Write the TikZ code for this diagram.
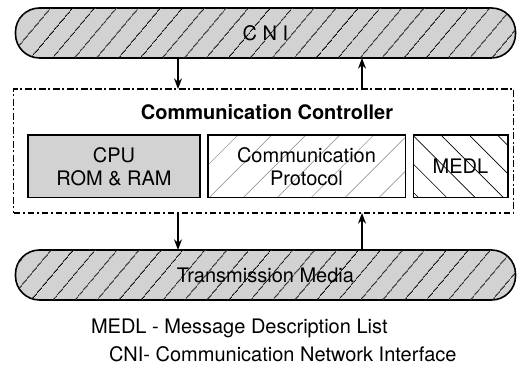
\documentclass[tikz,border=0pt]{standalone}
\usepackage{fontspec}
\setmainfont{TeX Gyre Heros}
\usetikzlibrary{arrows.meta, positioning, patterns.meta}

\begin{document}
\begin{tikzpicture}[x=0.75pt, y=-0.75pt,
    every node/.style={font=\fontsize{15}{17}\selectfont, outer sep=0pt},
    bus/.style={draw, line width=1.2pt, rounded corners=18pt,
        minimum width=375pt, minimum height=37.5pt, fill=gray!35,
        postaction={pattern={Lines[angle=50, distance=13pt, line width=0.7pt]}}},
    ctrlbox/.style={draw, line width=1pt,
        dash pattern=on 5pt off 2pt on 1.5pt off 2pt,
        minimum width=375pt, minimum height=93pt},
    unit/.style={draw, line width=1pt, align=center,
        minimum height=47pt, inner sep=2pt},
    flow/.style={line width=1pt, -{Stealth[length=8pt, width=6pt]}}
  ]
  \useasboundingbox (0,0) rectangle (517,373);

  % upper bus and lower bus
  \node[bus] (cni) at (265.5,33) {C N I};
  \node[bus] (media) at (265.5,275) {Transmission Media};

  % controller
  \node[ctrlbox] (ctrl) at (263.5,151) {};
  \node[font=\fontsize{15}{17}\selectfont\bfseries] (title) at (267,112) {Communication Controller};

  \node[unit, fill=gray!35, minimum width=129pt] (cpu) at (114,166.5) {CPU\\ROM \& RAM};
  \node[unit, minimum width=148pt,
      pattern={Lines[angle=45, distance=18pt, line width=0.5pt]}, pattern color=gray!80]
      (prot) at (306.5,166.5) {Communication\\Protocol};
  \node[unit, minimum width=71pt,
      pattern={Lines[angle=-45, distance=15pt, line width=0.5pt]}]
      (medl) at (460.5,166.5) {MEDL};

  % arrows
  \coordinate (dn) at (178,0);
  \coordinate (up) at (362,0);
  \draw[flow] (dn |- cni.south) -- (dn |- ctrl.north);
  \draw[flow] (up |- ctrl.north) -- (up |- cni.south);
  \draw[flow] (dn |- ctrl.south) -- (dn |- media.north);
  \draw[flow] (up |- media.north) -- (up |- ctrl.south);

  % legend
  \node[anchor=west, inner sep=0pt] (leg1) at (91,328) {MEDL - Message Description List};
  \node[anchor=west, inner sep=0pt] (leg2) at (109,354) {CNI- Communication Network Interface};
\end{tikzpicture}
\end{document}
